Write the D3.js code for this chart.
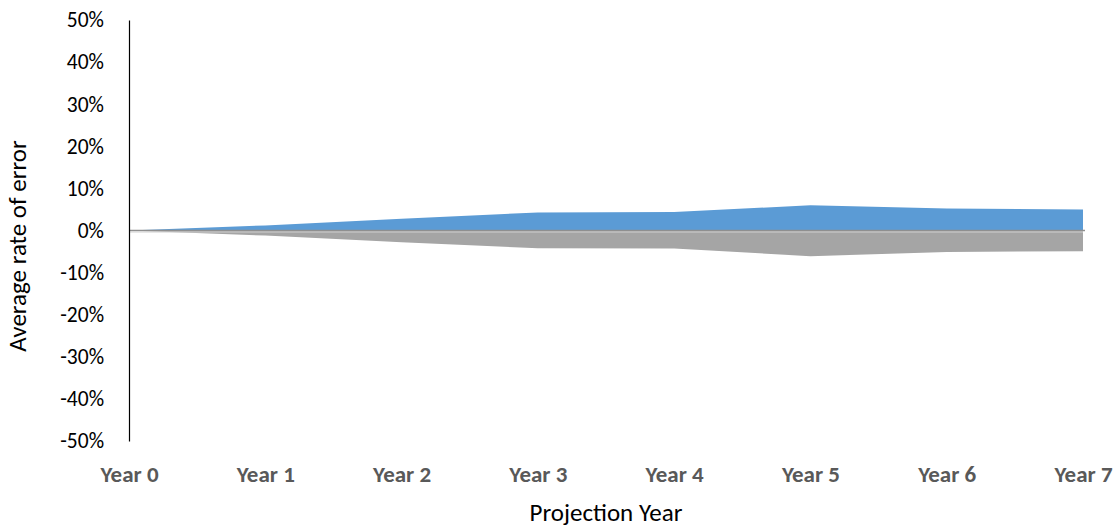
<!DOCTYPE html>
<html>
<head>
<meta charset="utf-8">
<script src="https://cdn.jsdelivr.net/npm/d3@7"></script>
<style>
  body { margin: 0; background: #fff; }
  text { font-family: Carlito, Calibri, Lato, sans-serif; }
</style>
</head>
<body>
<div id="chart"></div>
<script>
var years = ['Year 0', 'Year 1', 'Year 2', 'Year 3', 'Year 4', 'Year 5', 'Year 6', 'Year 7'];
var upperError = [0, 0.012, 0.028, 0.043, 0.044, 0.060, 0.052, 0.050];
var lowerError = [0, -0.012, -0.028, -0.042, -0.043, -0.061, -0.051, -0.049];
var yTicks = [-0.5, -0.4, -0.3, -0.2, -0.1, 0, 0.1, 0.2, 0.3, 0.4, 0.5];

var width = 1118, height = 529;
var margin = { left: 129, right: 35, top: 20, bottom: 88 };

var svg = d3.select('#chart').append('svg')
  .attr('width', width)
  .attr('height', height);

var x = d3.scalePoint()
  .domain(years)
  .range([margin.left, width - margin.right]);

var y = d3.scaleLinear()
  .domain([-0.5, 0.5])
  .range([height - margin.bottom, margin.top]);

function areaFor(values) {
  return d3.area()
    .x(function(d, i) { return x(years[i]); })
    .y0(y(0))
    .y1(function(d) { return y(d); })(values);
}

svg.append('path')
  .attr('d', areaFor(upperError))
  .attr('fill', '#5b9bd5');

svg.append('path')
  .attr('d', areaFor(lowerError))
  .attr('fill', '#a5a5a5');

// zero line
svg.append('line')
  .attr('x1', x(years[0]))
  .attr('x2', x(years[years.length - 1]) + 2)
  .attr('y1', y(0))
  .attr('y2', y(0))
  .attr('stroke', '#8f8f8f')
  .attr('stroke-width', 1.5);
svg.append('line')
  .attr('x1', x(years[0]))
  .attr('x2', x(years[years.length - 1]))
  .attr('y1', y(0) + 1.5)
  .attr('y2', y(0) + 1.5)
  .attr('stroke', '#d0d0d0')
  .attr('stroke-width', 1);

// y axis
var pct = d3.format('.0%');
var yAxis = d3.axisLeft(y)
  .tickValues(yTicks)
  .tickFormat(function(d) { return pct(d).replace('\u2212', '-'); })
  .tickSize(0)
  .tickPadding(25);

var yg = svg.append('g')
  .attr('transform', 'translate(' + margin.left + ',0)')
  .call(yAxis);
yg.select('.domain').attr('stroke', '#000').attr('stroke-width', 1.2);
yg.selectAll('text')
  .attr('font-size', 21.5)
  .attr('fill', '#000')
  .style('font-family', 'Carlito, Calibri, Lato, sans-serif');

// x axis labels
var xAxis = d3.axisBottom(x).tickSize(0).tickPadding(0);
var xg = svg.append('g')
  .attr('transform', 'translate(0,' + (height - margin.bottom + 41) + ')')
  .call(xAxis);
xg.select('.domain').remove();
xg.selectAll('text')
  .attr('font-size', 23)
  .attr('font-weight', 'bold')
  .attr('fill', '#595959')
  .attr('dy', 0)
  .style('font-family', 'Carlito, Calibri, Lato, sans-serif');

// axis titles
svg.append('text')
  .attr('x', 606)
  .attr('y', 521)
  .attr('text-anchor', 'middle')
  .attr('font-size', 25)
  .attr('fill', '#000')
  .text('Projection Year');

svg.append('text')
  .attr('transform', 'translate(26,246) rotate(-90)')
  .attr('text-anchor', 'middle')
  .attr('font-size', 25)
  .attr('fill', '#000')
  .text('Average rate of error');
</script>
</body>
</html>
